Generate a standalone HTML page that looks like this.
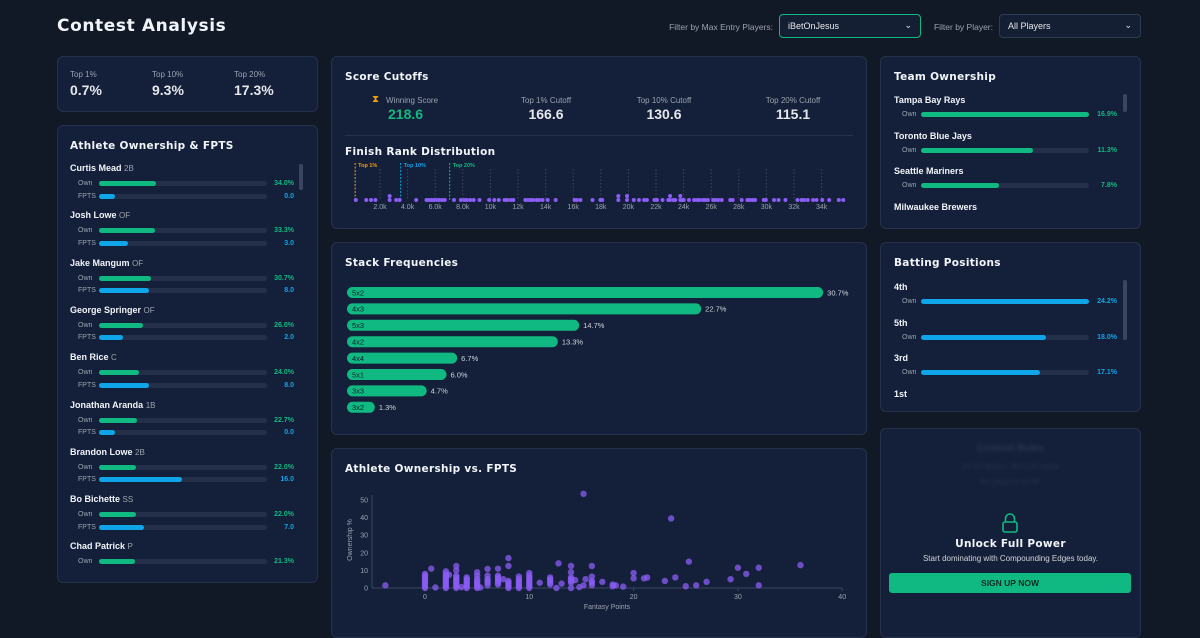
<!DOCTYPE html>
<html><head><meta charset="utf-8">
<style>
*{box-sizing:border-box;margin:0;padding:0}
body{width:1200px;height:630px;background:#111826;font-family:"Liberation Sans",sans-serif;color:#e5e7eb;position:relative;overflow:hidden}
.a{position:absolute}
.card{position:absolute;background:#14203a;border:1px solid #26324a;border-radius:6px}
.h{font-family:"DejaVu Sans",sans-serif;font-weight:bold;color:#f1f5f9;letter-spacing:0.3px;position:absolute;white-space:nowrap}
.lbl{font-size:8px;color:#9ca3af;position:absolute;white-space:nowrap}
.sel{position:absolute;height:24px;border:1px solid #2f3b55;border-radius:4px;background:#151f33;font-size:9px;color:#e5e7eb;padding:6px 8px}
svg text{font-family:"Liberation Sans",sans-serif}
</style></head><body>
<div class="h" style="left:57px;top:16px;font-size:17px;letter-spacing:0.6px">Contest Analysis</div>
<div class="lbl" style="left:640px;top:22px;width:133px;text-align:right;font-size:8.5px">Filter by Max Entry Players:</div>
<div class="sel" style="left:779px;top:14px;width:142px;border:1.5px solid #10b981">iBetOnJesus<span style="position:absolute;right:8px;top:5px">⌄</span></div>
<div class="lbl" style="left:900px;top:22px;width:93px;text-align:right;font-size:8.5px">Filter by Player:</div>
<div class="sel" style="left:999px;top:14px;width:142px">All Players<span style="position:absolute;right:8px;top:5px">⌄</span></div>

<div class="card" style="left:57px;top:56px;width:261px;height:56px"></div>
<div class="lbl" style="left:70px;top:70px">Top 1%</div>
<div class="a" style="left:70px;top:82px;font-size:14px;font-weight:bold">0.7%</div>
<div class="lbl" style="left:152px;top:70px">Top 10%</div>
<div class="a" style="left:152px;top:82px;font-size:14px;font-weight:bold">9.3%</div>
<div class="lbl" style="left:234px;top:70px">Top 20%</div>
<div class="a" style="left:234px;top:82px;font-size:14px;font-weight:bold">17.3%</div>

<div class="card" style="left:57px;top:125px;width:261px;height:458px"></div>
<div class="h" style="left:70px;top:140px;font-size:10.5px">Athlete Ownership &amp; FPTS</div>
<div class="a" style="left:299px;top:164px;width:4px;height:26px;background:#3a4660;border-radius:2px"></div>

<div class="card" style="left:331px;top:56px;width:536px;height:173px"></div>
<div class="h" style="left:345px;top:71px;font-size:10.5px">Score Cutoffs</div>
<div class="a" style="left:372px;top:94px;color:#f59e0b;font-size:10px">⧗</div>
<div class="lbl" style="left:386px;top:96px">Winning Score</div>
<div class="a" style="left:388px;top:106px;font-size:14px;font-weight:bold;color:#10b981">218.6</div>
<div class="lbl" style="left:496px;top:96px;width:100px;text-align:center">Top 1% Cutoff</div>
<div class="a" style="left:496px;top:106px;width:100px;text-align:center;font-size:14px;font-weight:bold">166.6</div>
<div class="lbl" style="left:614px;top:96px;width:100px;text-align:center">Top 10% Cutoff</div>
<div class="a" style="left:614px;top:106px;width:100px;text-align:center;font-size:14px;font-weight:bold">130.6</div>
<div class="lbl" style="left:743px;top:96px;width:100px;text-align:center">Top 20% Cutoff</div>
<div class="a" style="left:743px;top:106px;width:100px;text-align:center;font-size:14px;font-weight:bold">115.1</div>
<div class="a" style="left:345px;top:135px;width:508px;height:1px;background:#26324a"></div>
<div class="h" style="left:345px;top:146px;font-size:10.5px">Finish Rank Distribution</div>
<svg class="a" style="left:331px;top:155px" width="536" height="60" id="rank"></svg>

<div class="card" style="left:331px;top:242px;width:536px;height:193px"></div>
<div class="h" style="left:345px;top:257px;font-size:10.5px">Stack Frequencies</div>
<svg class="a" style="left:331px;top:280px" width="536" height="145" id="stack"></svg>

<div class="card" style="left:331px;top:448px;width:536px;height:190px"></div>
<div class="h" style="left:345px;top:463px;font-size:10.5px">Athlete Ownership vs. FPTS</div>
<svg class="a" style="left:331px;top:480px" width="536" height="140" id="scatter"></svg>

<div class="card" style="left:880px;top:56px;width:261px;height:173px"></div>
<div class="h" style="left:894px;top:71px;font-size:10.5px">Team Ownership</div>
<div class="a" style="left:1123px;top:94px;width:4px;height:18px;background:#3a4660;border-radius:2px"></div>

<div class="card" style="left:880px;top:242px;width:261px;height:170px"></div>
<div class="h" style="left:894px;top:257px;font-size:10.5px">Batting Positions</div>
<div class="a" style="left:1123px;top:280px;width:4px;height:60px;background:#3a4660;border-radius:2px"></div>

<div class="card" style="left:880px;top:428px;width:261px;height:210px"></div>
<div class="a" style="left:880px;top:443px;width:261px;text-align:center;font-weight:bold;font-size:10px;color:#2a3550;filter:blur(1.5px)">Contest Rules</div>
<div class="a" style="left:880px;top:462px;width:261px;text-align:center;font-size:8px;color:#263049;filter:blur(1.5px)">20-40 Stack / 4th 5-th sides</div>
<div class="a" style="left:880px;top:477px;width:261px;text-align:center;font-size:8px;color:#263049;filter:blur(1.5px)">No players vs SP</div>
<svg class="a" style="left:1001px;top:512px" width="18" height="22"><path d="M4.5 10 V6.5 a4.5 4.5 0 0 1 9 0 V10" fill="none" stroke="#10b981" stroke-width="1.6"/><rect x="2" y="10" width="14" height="10" rx="2" fill="none" stroke="#10b981" stroke-width="1.6"/></svg>
<div class="h" style="left:880px;top:538px;width:261px;text-align:center;font-size:10.5px">Unlock Full Power</div>
<div class="a" style="left:880px;top:554px;width:261px;text-align:center;font-size:8px;color:#d1d5db">Start dominating with Compounding Edges today.</div>
<div class="a" style="left:889px;top:573px;width:242px;height:20px;background:#10b981;border-radius:3px;text-align:center;font-size:8.5px;line-height:20px;color:#0f2a26;font-weight:bold">SIGN UP NOW</div>

<script>
const NS='http://www.w3.org/2000/svg';
function mk(p,t,a){const e=document.createElementNS(NS,t);for(const k in a)e.setAttribute(k,a[k]);p.appendChild(e);return e;}
function div(style,text){const d=document.createElement('div');d.className='a';d.style.cssText=style;if(text!==undefined)d.textContent=text;document.body.appendChild(d);return d;}

const athleteNames=['Curtis Mead','Josh Lowe','Jake Mangum','George Springer','Ben Rice','Jonathan Aranda','Brandon Lowe','Bo Bichette','Chad Patrick'];
const athletePos=['2B','OF','OF','OF','C','1B','2B','SS','P'];
const athleteOwn=[34.0,33.3,30.7,26.0,24.0,22.7,22.0,22.0,21.3];
const athleteFpts=[0.0,3.0,8.0,2.0,8.0,0.0,16.0,7.0,null];
athleteNames.forEach((n,i)=>{
  const y=163+i*47.3;
  const nm=div(`left:70px;top:${y}px;font-size:9px;font-weight:bold;color:#f1f5f9;white-space:nowrap`);
  nm.innerHTML=n+' <span style="font-weight:normal;color:#9ca3af;font-size:8px">'+athletePos[i]+'</span>';
  
  
  const rows=[['Own',athleteOwn[i],'#10b981',athleteOwn[i]*1.68,athleteOwn[i].toFixed(1)+'%']];
  if(athleteFpts[i]!==null)rows.push(['FPTS',athleteFpts[i],'#0ea5e9',16+athleteFpts[i]*4.2,athleteFpts[i].toFixed(1)]);
  rows.forEach((r,j)=>{
    const yy=y+18+j*12.5;
    const l=div(`left:78px;top:${yy-2}px;font-size:7px;line-height:9px;color:#9ca3af`,r[0]);
    
    
    const t=div(`left:99px;top:${yy}px;width:168px;height:5px;background:#243049;border-radius:3px`);
    
    
    const b=div(`left:99px;top:${yy}px;width:${r[3]}px;height:5px;background:${r[2]};border-radius:3px`);
    
    
    const v=div(`left:250px;width:44px;text-align:right;top:${yy-2}px;font-size:7px;line-height:9px;font-weight:bold;color:${r[2]}`,r[4]);
    
    
  });
});

const teamNames=['Tampa Bay Rays','Toronto Blue Jays','Seattle Mariners','Milwaukee Brewers'];
const teamOwn=[16.9,11.3,7.8,null];
const batNames=['4th','5th','3rd','1st'];
const batOwn=[24.2,18.0,17.1,null];
function side(names,vals,top,color,max){
  names.forEach((n,i)=>{
    const y=top+i*35.5;
    const nm=div(`left:894px;top:${y}px;font-size:9px;font-weight:bold;color:#f1f5f9;white-space:nowrap`,n);
    
    
    if(vals[i]===null)return;
    const yy=y+17;
    const l=div(`left:902px;top:${yy-2}px;font-size:7px;line-height:9px;color:#9ca3af`,'Own');
    
    
    const t=div(`left:921px;top:${yy}px;width:168px;height:5px;background:#243049;border-radius:3px`);
    
    
    const b=div(`left:921px;top:${yy}px;width:${vals[i]/max*168}px;height:5px;background:${color};border-radius:3px`);
    
    
    const v=div(`left:1080px;width:37px;text-align:right;top:${yy-2}px;font-size:7px;line-height:9px;font-weight:bold;color:${color}`,vals[i].toFixed(1)+'%');
    
    
  });
}
side(teamNames,teamOwn,95,'#10b981',16.9);
side(batNames,batOwn,282,'#0ea5e9',24.2);

const rankK=[0.25,1.0,1.35,1.67,2.7,3.17,3.42,4.62,5.37,5.54,5.74,5.92,6.12,6.29,6.49,6.69,7.36,7.86,8.11,8.29,8.54,8.79,9.21,9.91,10.28,10.61,11.03,11.23,11.48,11.66,12.53,12.73,12.91,13.1,13.35,13.53,13.78,14.15,14.73,16.1,16.28,16.53,17.4,17.97,18.1,19.27,19.9,20.39,20.77,21.14,21.34,21.89,22.07,22.47,22.89,23.02,23.27,23.39,23.76,23.89,24.01,24.39,24.76,24.96,25.14,25.39,25.56,25.76,26.14,26.31,26.51,26.76,27.38,27.56,28.21,28.63,28.81,29.01,29.18,29.81,29.96,30.55,30.88,31.38,32.25,32.55,32.75,33.0,33.38,33.63,34.05,34.55,35.25,35.57];
const rankCount=[1,1,1,1,2,1,1,1,1,1,1,1,1,1,1,1,1,1,1,1,1,1,1,1,1,1,1,1,1,1,1,1,1,1,1,1,1,1,1,1,1,1,1,1,1,2,2,1,1,1,1,1,1,1,1,2,1,1,2,1,1,1,1,1,1,1,1,1,1,1,1,1,1,1,1,1,1,1,1,1,1,1,1,1,1,1,1,1,1,1,1,1,1,1];
const rankTicks=[2,4,6,8,10,12,14,16,18,20,22,24,26,28,30,32,34];
const rankTickLabels=['2.0k','4.0k','6.0k','8.0k','10k','12k','14k','16k','18k','20k','22k','24k','26k','28k','30k','32k','34k'];
const cutNames=['Top 1%','Top 10%','Top 20%'];
const cutK=[0.2,3.5,7.05];
const cutColors=['#f59e0b','#0ea5e9','#10b981'];
const rs=document.getElementById('rank');
const rx=k=>21.4+k*13.8;
rankTicks.forEach((k,i)=>{
  const g=mk(rs,'line',{x1:rx(k),x2:rx(k),y1:14,y2:45,stroke:'#3a4660','stroke-dasharray':'1.5,2'});
  
  
  const t=mk(rs,'text',{x:rx(k),y:54,'font-size':7,fill:'#9ca3af','text-anchor':'middle'});t.textContent=rankTickLabels[i];
  
  
});
cutK.forEach((k,i)=>{
  const l=mk(rs,'line',{x1:rx(k),x2:rx(k),y1:8,y2:45,stroke:cutColors[i],'stroke-dasharray':'2,1.5','stroke-width':1});
  
  
  const t=mk(rs,'text',{x:rx(k)+3,y:12,'font-size':5.5,'font-weight':'bold',fill:cutColors[i]});t.textContent=cutNames[i];
  
  
});
rankK.forEach((k,i)=>{for(let c=0;c<rankCount[i];c++){
  const d=mk(rs,'circle',{cx:rx(k),cy:45-c*4,r:2,fill:'#8b5cf6'});
  
  
}});

const stackCats=['5x2','4x3','5x3','4x2','4x4','5x1','3x3','3x2'];
const stackVals=[30.7,22.7,14.7,13.3,6.7,6.0,4.7,1.3];
const ss=document.getElementById('stack');
const sw=v=>8+v*15.25;
stackCats.forEach((c,i)=>{
  const y=7+i*16.4;
  const r=mk(ss,'rect',{x:16,y:y,width:sw(stackVals[i]),height:11,rx:5.5,fill:'#10b981'});
  
  
  const t=mk(ss,'text',{x:21,y:y+8.3,'font-size':7.5,fill:'#0f1f2a'});t.textContent=c;
  
  
  const v=mk(ss,'text',{x:16+sw(stackVals[i])+4,y:y+8.3,'font-size':7.5,fill:'#d1d5db'});v.textContent=stackVals[i].toFixed(1)+'%';
  
  
});

const scFpts=[-3.8,0,0,0,0,0,0,0,0,0,0.6,1,2,2,2,2,2,2,2,2,2,2,2.3,3,3,3,3,3,3,3,3,3,3,3.5,4,4,4,4,4,4,4,5,5,5,5,5,5,5,5,5.3,6,6,6,6,6,6,7,7,7,7,7,7,7,7.5,8,8,8,8,8,8,8,9,9,9,9,9,9,9,10,10,10,10,10,10,10,10,10,11,12,12,12,12,12,12.6,12.8,13.1,14,14,14,14,14,14,14,14.4,14.8,15.2,15.2,15.4,16,16,16,16,16,17,18,18,18.3,19,20,20,21,21.3,23,23.6,24,25,25.3,26,27,29.3,30,30.8,32,32,36];
const scOwn=[1.5,0,1,2,3,4,5,6,7,8,11,0.3,0,1,2,3,4,5,6,7,8,9.5,7.5,0,1,2,3,4,5,6,7,10,12.5,0.5,0,1,2,3,4,5,6,0,1,2,3,4,5,7,9,0.3,1.5,3,4,5,7,10.8,2,3,4,5,6,7,11,5,0,1,2,3,4,12.5,17,0,1,2,3,4,5,6.5,0,1,2,3,4,5,6,7,8.5,3,2,3,4,5,6,0,14,2.5,0,3,4,5,6,9,12.5,4.5,0.5,1.5,53.5,5,1.5,3,4,6.5,12.5,3.5,1,2,1.5,0.8,5.5,8.5,5.5,6,4,39.5,6,1,15,1.5,3.5,5,11.5,8,1.5,11.5,13];
const scXTicks=[0,10,20,30,40];
const scYTicks=[0,10,20,30,40,50];
const sc=document.getElementById('scatter');
const sx=v=>94+v*10.43, sy=v=>108-v*1.76;
mk(sc,'line',{x1:41,x2:511,y1:108,y2:108,stroke:'#3a4660'});
mk(sc,'line',{x1:41,x2:41,y1:15,y2:108,stroke:'#3a4660'});
scXTicks.forEach(v=>{
  mk(sc,'line',{x1:sx(v),x2:sx(v),y1:108,y2:111,stroke:'#3a4660'});
  const t=mk(sc,'text',{x:sx(v),y:119,'font-size':7,fill:'#9ca3af','text-anchor':'middle'});t.textContent=v;
  
  
});
scYTicks.forEach(v=>{
  const t=mk(sc,'text',{x:37,y:sy(v)+2.5,'font-size':7,fill:'#9ca3af','text-anchor':'end'});t.textContent=v;
  
  
});
const xt=mk(sc,'text',{x:276,y:129,'font-size':7,fill:'#9ca3af','text-anchor':'middle'});xt.textContent='Fantasy Points';


const yt=mk(sc,'text',{x:0,y:0,'font-size':7,fill:'#9ca3af','text-anchor':'middle',transform:'translate(21,60) rotate(-90)'});yt.textContent='Ownership %';


scFpts.forEach((f,i)=>{
  const c=mk(sc,'circle',{cx:sx(f),cy:sy(scOwn[i]),r:3.2,fill:'#8b5cf6','fill-opacity':0.75});
  
  
});
</script>
</body></html>
